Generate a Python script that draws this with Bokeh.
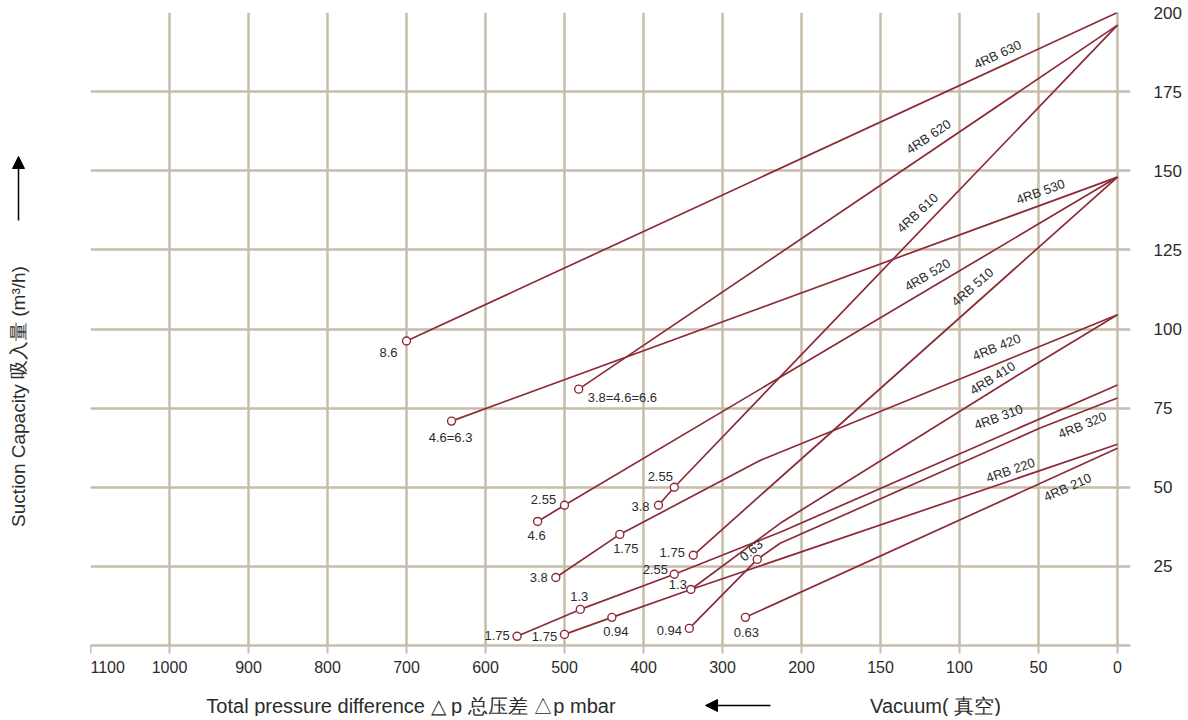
from bokeh.plotting import figure
from bokeh.layouts import row, column
from bokeh.models import (Range1d, FixedTicker, ColumnDataSource, Arrow,
                          NormalHead, CustomJSTransform)
from bokeh.transform import transform
from bokeh.core.properties import value
from bokeh.embed import file_html
from bokeh.resources import INLINE

# ---------------- data ----------------
# pressure difference in mbar (x), suction capacity in m3/h (y)
x_tick_labels = [1100, 1000, 900, 800, 700, 600, 500, 400, 300, 200, 150, 100, 50, 0]
y_ticks = [25, 50, 75, 100, 125, 150, 175, 200]

s630_p = [700, 0];                 s630_c = [96.2, 200]
s620_p = [482, 0];                 s620_c = [81.0, 196]
s610_p = [381, 361, 0];            s610_c = [44.3, 50.0, 196]
s530_p = [643, 0];                 s530_c = [70.9, 148]
s520_p = [534, 500, 0];            s520_c = [39.2, 44.3, 148]
s510_p = [337, 0];                 s510_c = [28.5, 148]
s420_p = [511, 430, 252, 0];       s420_c = [21.5, 35.1, 58.5, 104.5]
s410_p = [340, 227, 68, 0];        s410_c = [17.7, 38.6, 83.9, 104.5]
s310_p = [560, 480, 361, 227, 0];  s310_c = [2.9, 11.4, 22.5, 35.8, 82.3]
s320_p = [342, 256, 227, 49, 0];   s320_c = [5.4, 27.2, 32.3, 68.7, 78.2]
s220_p = [500, 440, 340, 0];       s220_c = [3.5, 8.9, 17.7, 63.6]
s210_p = [271, 0];                 s210_c = [8.9, 62.3]

series_p = [s630_p, s620_p, s610_p, s530_p, s520_p, s510_p,
            s420_p, s410_p, s310_p, s320_p, s220_p, s210_p]
series_c = [s630_c, s620_c, s610_c, s530_c, s520_c, s510_c,
            s420_c, s410_c, s310_c, s320_c, s220_c, s210_c]

# motor power markers (kW)
mk_p = [700, 482, 643, 534, 500, 381, 361, 511, 430, 337, 361, 340, 560, 480, 500, 440, 342, 256, 271]
mk_c = [96.2, 81.0, 70.9, 39.2, 44.3, 44.3, 50.0, 21.5, 35.1, 28.5, 22.5, 17.7, 2.9, 11.4, 3.5, 8.9, 5.4, 27.2, 8.9]
mk_lab = ["8.6", "3.8=4.6=6.6", "4.6=6.3", "4.6", "2.55", "3.8", "2.55", "3.8", "1.75", "1.75",
          "2.55", "1.3", "1.75", "1.3", "1.75", "0.94", "0.94", "0.63", "0.63"]

# model names along the curves
nm_lab = ["4RB 630", "4RB 620", "4RB 610", "4RB 530", "4RB 520", "4RB 510",
          "4RB 420", "4RB 410", "4RB 310", "4RB 320", "4RB 220", "4RB 210"]
nm_p = [75.9, 119.6, 126.6, 48.7, 120.3, 91.8, 76.6, 79.1, 75.3, 22.2, 67.7, 31.6]
nm_c = [186.7, 160.8, 136.7, 143.4, 117.1, 113.3, 94.3, 84.5, 72.2, 69.6, 55.4, 50.0]

x_title = "Total pressure difference △ p 总压差 △p mbar"
vac_title = "Vacuum( 真空)"
y_title = "Suction Capacity 吸入量 (m³/h)"

# ---------------- styles ----------------
RED = "#8c2b36"
GRID = "#c6bdab"
TXT = "#2b2b2b"
FONT = "Liberation Sans"
mk_dx = [-18, 9, -1, -1, -21, -18, -14, -17, 6, -21, -19, -13, -20, -1, -20, 4, -20, -6, 1]
mk_dy = [11, 8, 16, 14, -6, 1, -11, 0, 14, -3, -5, -5, -1, -13, 2, 14, 2, -9, 15]
mk_align = ["center", "left"] + ["center"] * 17
mk_ang = [0] * 17 + [40, 0]
nm_ang = [24.8, 34, 43, 20, 30.5, 41, 22, 32, 20, 22, 19, 24]


def seg_py(v):
    return (1100 - v) / 100 if v >= 200 else 9 + (200 - v) / 50


seg = CustomJSTransform(
    func="return x >= 200 ? (1100 - x) / 100 : 9 + (200 - x) / 50;",
    v_func="""
const out = new Float64Array(xs.length);
for (let i = 0; i < xs.length; i++) {
  const v = xs[i];
  out[i] = v >= 200 ? (1100 - v) / 100 : 9 + (200 - v) / 50;
}
return out;
""")

LEFT_W = 90
MAIN_W = 1098
MAIN_H = 681
BOT_H = 35

p = figure(width=MAIN_W, height=MAIN_H, output_backend="svg", toolbar_location=None,
           x_range=Range1d(0, 13.165), y_range=Range1d(0, 200),
           y_axis_location="right",
           min_border_left=0, min_border_right=58, min_border_top=12, min_border_bottom=36)
p.outline_line_color = None

tick_pos = [seg_py(t) for t in x_tick_labels]
p.xaxis.ticker = FixedTicker(ticks=tick_pos)
p.xaxis.major_label_overrides = {tp: str(t) for tp, t in zip(tick_pos, x_tick_labels)}
p.xaxis.minor_tick_line_color = None
p.xaxis.axis_line_color = GRID
p.xaxis.axis_line_width = 2.5
p.xaxis.major_tick_line_color = GRID
p.xaxis.major_tick_line_width = 2
p.xaxis.major_tick_in = 0
p.xaxis.major_tick_out = 8
p.xaxis.major_label_standoff = 7
p.xaxis.major_label_text_font = FONT
p.xaxis.major_label_text_font_size = "16px"
p.xaxis.major_label_text_color = TXT

p.yaxis.ticker = FixedTicker(ticks=y_ticks)
p.yaxis.minor_tick_line_color = None
p.yaxis.axis_line_color = None
p.yaxis.major_tick_line_color = None
p.yaxis.major_label_standoff = 17
p.yaxis.major_label_text_font = FONT
p.yaxis.major_label_text_font_size = "17px"
p.yaxis.major_label_text_color = TXT

p.xgrid.ticker = FixedTicker(ticks=tick_pos)
p.ygrid.ticker = FixedTicker(ticks=y_ticks)
for g in (p.xgrid, p.ygrid):
    g.grid_line_color = GRID
    g.grid_line_width = 2.5

for sp, sc in zip(series_p, series_c):
    src = ColumnDataSource(dict(p=sp, c=sc))
    p.line(x=transform("p", seg), y="c", source=src, line_color=RED, line_width=1.7)

msrc = ColumnDataSource(dict(p=mk_p, c=mk_c, lab=mk_lab, dx=mk_dx, dy=mk_dy,
                             al=mk_align, ang=mk_ang))
p.scatter(x=transform("p", seg), y="c", source=msrc, marker="circle", size=8,
          fill_color="white", line_color=RED, line_width=1.4)
p.text(x=transform("p", seg), y="c", text="lab", source=msrc, x_offset="dx", y_offset="dy",
       angle="ang", angle_units="deg", text_align="al", text_baseline="middle",
       text_font=value(FONT), text_font_size="13px", text_color=TXT)

nsrc = ColumnDataSource(dict(p=nm_p, c=nm_c, lab=nm_lab, ang=nm_ang))
p.text(x=transform("p", seg), y="c", text="lab", source=nsrc, angle="ang", angle_units="deg",
       text_align="center", text_baseline="middle",
       text_font=value(FONT), text_font_size="13px", text_color=TXT)

# ---- left strip: y title with up arrow (pixel coordinates, y down) ----
lf = figure(width=LEFT_W, height=MAIN_H + BOT_H, output_backend="svg", toolbar_location=None,
            x_range=Range1d(0, LEFT_W), y_range=Range1d(MAIN_H + BOT_H, 0),
            x_axis_type=None, y_axis_type=None, min_border=0)
lf.outline_line_color = None
lf.grid.visible = False
lf.text(x=[18], y=[396], text=[y_title], angle=90, angle_units="deg",
        text_align="center", text_baseline="middle",
        text_font=value(FONT), text_font_size="19px", text_color=TXT)
lf.add_layout(Arrow(x_start=18, y_start=220, x_end=18, y_end=156,
                    line_color="black", line_width=1.5,
                    end=NormalHead(size=12, fill_color="black", line_color="black")))

# ---- bottom strip: x title, arrow, vacuum ----
bf = figure(width=MAIN_W, height=BOT_H, output_backend="svg", toolbar_location=None,
            x_range=p.x_range, y_range=Range1d(BOT_H, 0),
            x_axis_type=None, y_axis_type=None,
            min_border_left=0, min_border_right=58, min_border_top=0, min_border_bottom=0)
bf.outline_line_color = None
bf.grid.visible = False
bf.text(x=[4.025], y=[24], text=[x_title], text_align="center", text_baseline="middle",
        text_font=value(FONT), text_font_size="20px", text_color=TXT)
bf.text(x=[10.696], y=[24], text=[vac_title], text_align="center", text_baseline="middle",
        text_font=value(FONT), text_font_size="20px", text_color=TXT)
bf.add_layout(Arrow(x_start=8.608, y_start=24, x_end=7.785, y_end=24,
                    line_color="black", line_width=1.5,
                    end=NormalHead(size=12, fill_color="black", line_color="black")))

layout = row(lf, column(p, bf))
open("out.html", "w").write(file_html(layout, INLINE))
